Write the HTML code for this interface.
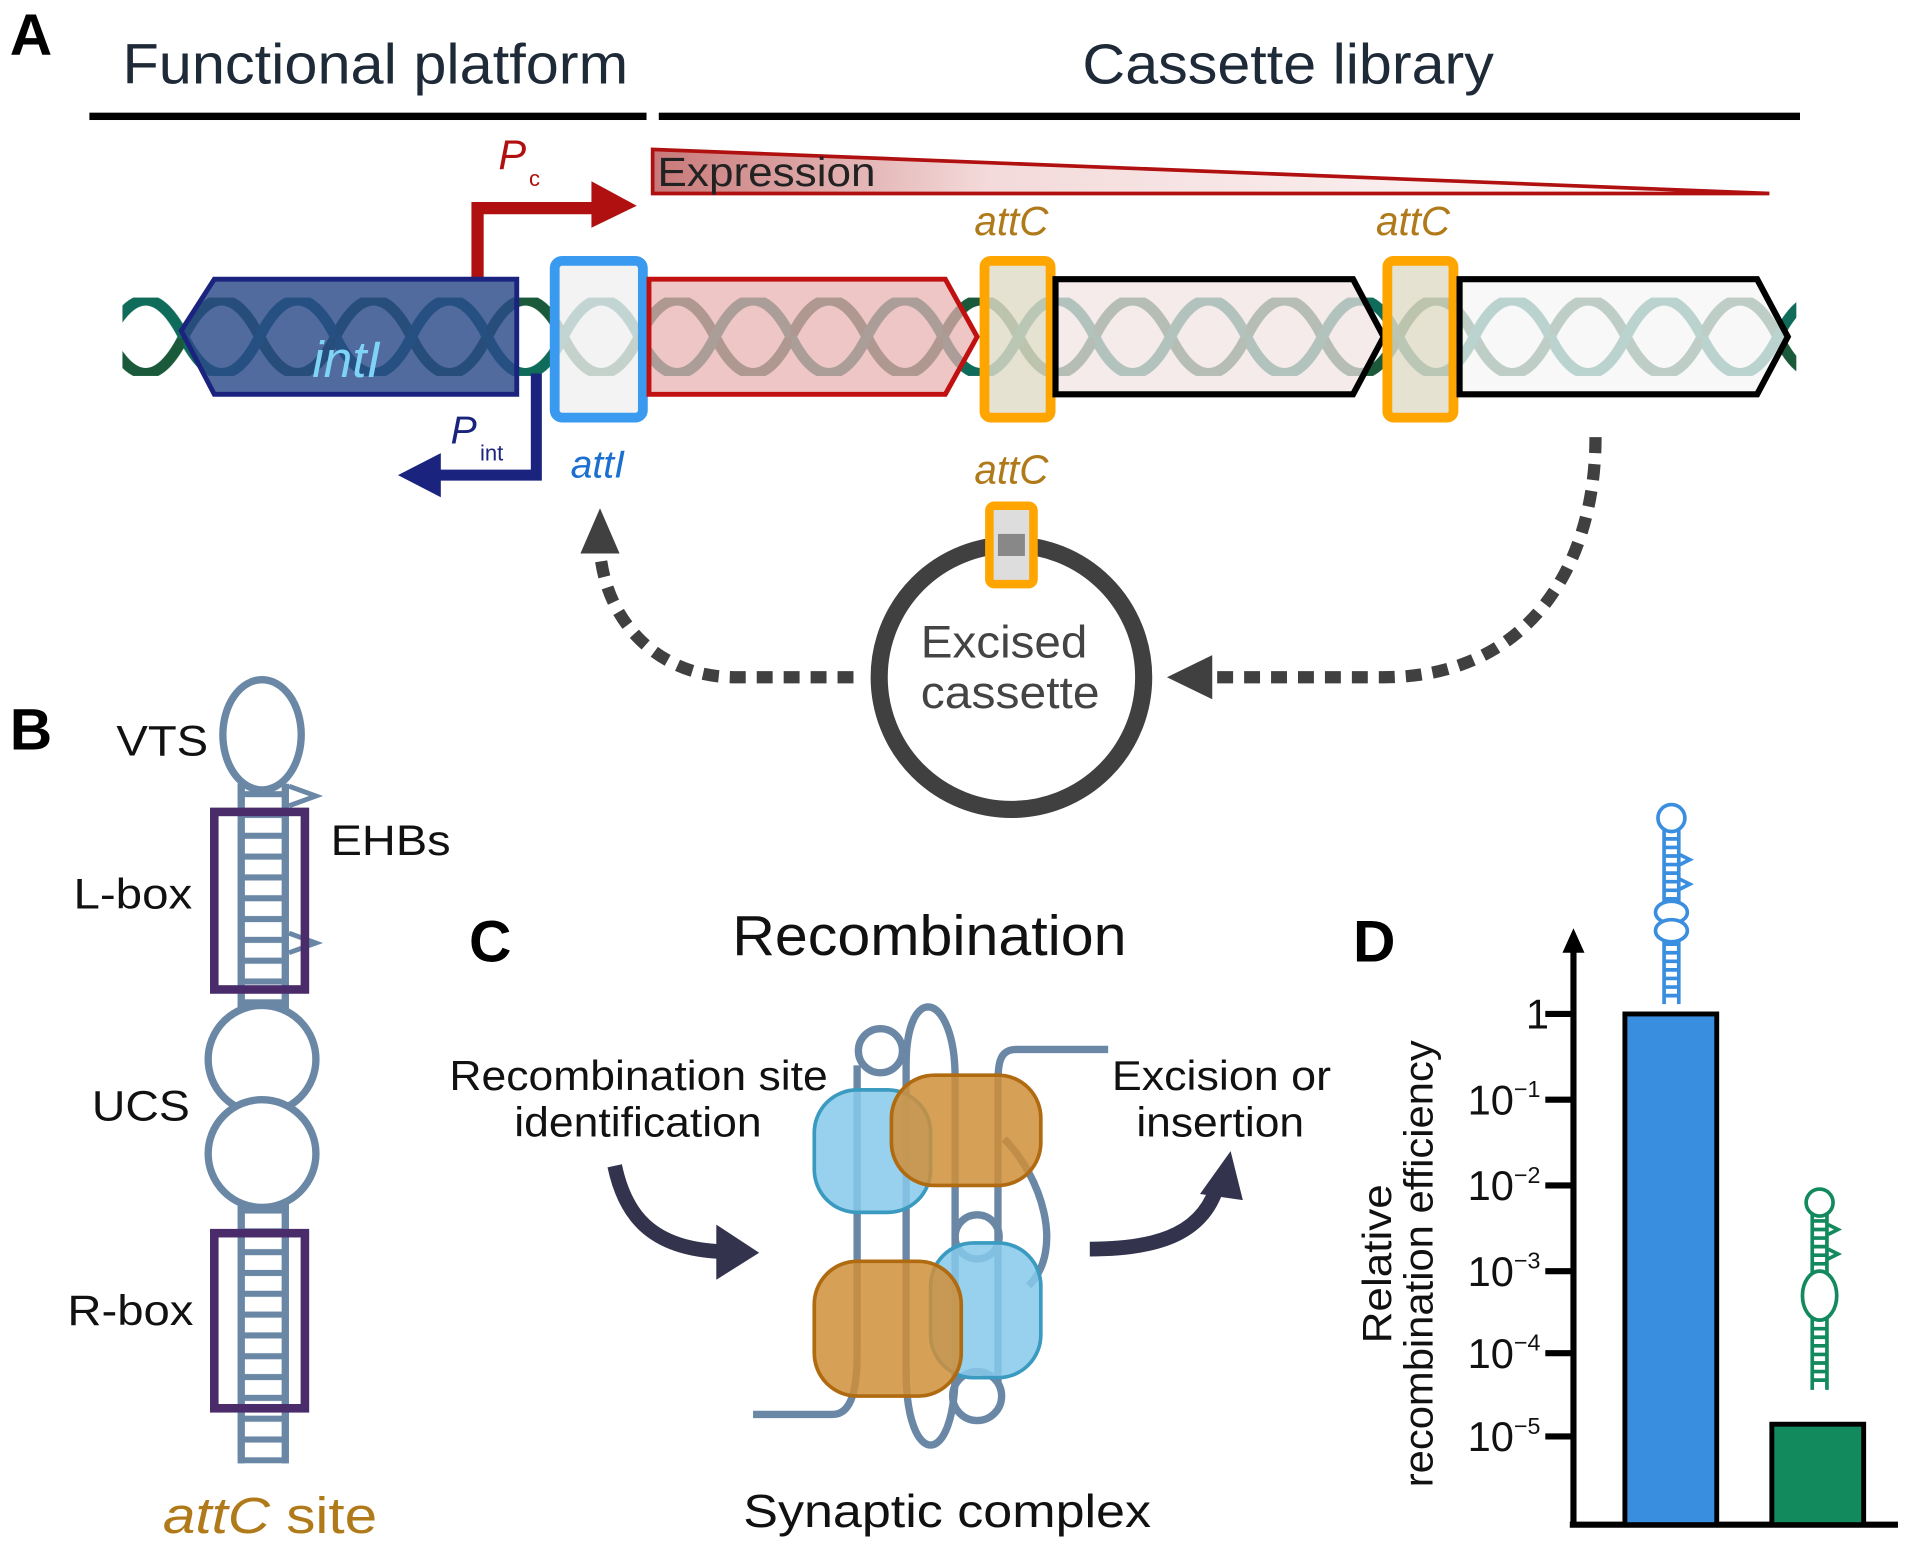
<!DOCTYPE html>
<html><head><meta charset="utf-8"><style>html,body{margin:0;padding:0;background:#fff}svg{display:block}</style></head>
<body>
<svg width="1920" height="1543" viewBox="0 0 1568 1260" preserveAspectRatio="none" xmlns="http://www.w3.org/2000/svg" font-family="Liberation Sans, sans-serif">
<defs>
<pattern id="hx" x="150" y="243" width="124" height="64" patternUnits="userSpaceOnUse">
<path d="M0,32 C20,-8 42,-8 62,32 C82,72 104,72 124,32" fill="none" stroke="#1a5a3a" stroke-width="9"/>
<path d="M0,32 C20,72 42,72 62,32 C82,-8 104,-8 124,32" fill="none" stroke="#0f6b5a" stroke-width="9"/>
</pattern>
<linearGradient id="eg" x1="0" x2="1" y1="0" y2="0"><stop offset="0" stop-color="#c87878"/><stop offset="0.3" stop-color="#f4dada"/><stop offset="1" stop-color="#fff"/></linearGradient>
<pattern id="ld" width="40" height="17" patternUnits="userSpaceOnUse" x="195" y="640"><rect x="0" y="6" width="40" height="5" fill="#6a88a6"/></pattern>
</defs>
<!-- Panel A -->
<text x="8" y="45" font-size="48" font-weight="bold">A</text>
<text x="100" y="68" font-size="46" fill="#1e2a38" textLength="413" lengthAdjust="spacingAndGlyphs">Functional platform</text>
<text x="884" y="68" font-size="46" fill="#1e2a38" textLength="336" lengthAdjust="spacingAndGlyphs">Cassette library</text>
<rect x="73" y="92" width="455" height="6" fill="#000"/>
<rect x="538" y="92" width="932" height="6" fill="#000"/>
<polygon points="533,122 533,158 1445,158" fill="url(#eg)" stroke="#b01010" stroke-width="3"/>
<text x="537" y="152" font-size="33" fill="#222" textLength="178" lengthAdjust="spacingAndGlyphs">Expression</text>
<path d="M390,228 V170 H488" fill="none" stroke="#b01010" stroke-width="10"/>
<polygon points="483,148 520,168 483,186" fill="#b01010"/>
<text x="407" y="138" font-size="34" font-style="italic" fill="#b01010">P</text>
<text x="432" y="152" font-size="18" fill="#b01010">c</text>
<rect x="100" y="243" width="1367" height="64" fill="url(#hx)"/>
<polygon points="148,270 175,228 422,228 422,322 175,322" fill="#2b4a8a" fill-opacity="0.82" stroke="#1a237e" stroke-width="4"/>
<text x="255" y="308" font-size="42" font-style="italic" fill="#7fd3f5">intI</text>
<path d="M438,305 V388 H358" fill="none" stroke="#1a237e" stroke-width="9"/>
<polygon points="360,370 325,388 360,406" fill="#1a237e"/>
<text x="368" y="362" font-size="32" font-style="italic" fill="#1a237e">P</text>
<text x="392" y="376" font-size="18" fill="#1a237e">int</text>
<rect x="453" y="213" width="72" height="128" rx="6" fill="#f0f0f0" fill-opacity="0.8" stroke="#3a9af0" stroke-width="8"/>
<text x="466" y="390" font-size="32" font-style="italic" fill="#1a6fd0">attI</text>
<polygon points="530,228 772,228 798,275 772,322 530,322" fill="#e8b0b0" fill-opacity="0.72" stroke="#c01010" stroke-width="4"/>
<rect x="804" y="213" width="54" height="128" rx="5" fill="#e0dcc8" fill-opacity="0.82" stroke="#ffa500" stroke-width="8"/>
<polygon points="862,228 1105,228 1130,275 1105,322 862,322" fill="#f1e3e3" fill-opacity="0.72" stroke="#000" stroke-width="5"/>
<rect x="1133" y="213" width="54" height="128" rx="5" fill="#e0dcc8" fill-opacity="0.82" stroke="#ffa500" stroke-width="8"/>
<polygon points="1192,228 1435,228 1460,275 1435,322 1192,322" fill="#f5f5f5" fill-opacity="0.75" stroke="#000" stroke-width="5"/>
<g font-size="33" font-style="italic" fill="#b07a1a" text-anchor="middle">
<text x="826" y="192">attC</text><text x="1154" y="192">attC</text><text x="826" y="395">attC</text></g>
<circle cx="826" cy="553" r="108" fill="#fff" stroke="#404040" stroke-width="14"/>
<rect x="808" y="413" width="36" height="64" rx="4" fill="#ddd" stroke="#ffa500" stroke-width="7"/>
<rect x="815" y="436" width="22" height="18" fill="#888"/>
<text x="752" y="537" font-size="37" fill="#444" textLength="136" lengthAdjust="spacingAndGlyphs">Excised</text>
<text x="752" y="578" font-size="37" fill="#444" textLength="146" lengthAdjust="spacingAndGlyphs">cassette</text>
<path d="M697,553 H600 C540,553 495,510 490,450" fill="none" stroke="#404040" stroke-width="10" stroke-dasharray="13 9"/>
<polygon points="474,452 490,415 506,452" fill="#404040"/>
<path d="M1303,357 C1303,460 1250,553 1130,553 H990" fill="none" stroke="#404040" stroke-width="10" stroke-dasharray="13 9"/>
<polygon points="990,535 953,553 990,571" fill="#404040"/>
<!-- Panel B -->
<text x="8" y="612" font-size="48" font-weight="bold">B</text>
<rect x="195" y="640" width="40" height="555" fill="url(#ld)"/>
<path d="M197,640 V1195 M233,640 V1195" stroke="#6a88a6" stroke-width="6"/>
<ellipse cx="214" cy="600" rx="32" ry="45" fill="#fff" stroke="#6a88a6" stroke-width="6"/>
<circle cx="214" cy="865" r="44" fill="#fff" stroke="#6a88a6" stroke-width="6"/>
<circle cx="214" cy="942" r="44" fill="#fff" stroke="#6a88a6" stroke-width="6"/>
<path d="M236,642 L258,650 L236,658 M236,762 L258,770 L236,778" fill="none" stroke="#6a88a6" stroke-width="4"/>
<rect x="175" y="663" width="74" height="145" fill="none" stroke="#4a2c6a" stroke-width="7"/>
<rect x="175" y="1007" width="74" height="143" fill="none" stroke="#4a2c6a" stroke-width="7"/>
<g font-size="35" fill="#111" lengthAdjust="spacingAndGlyphs">
<text x="95" y="617" textLength="75" lengthAdjust="spacingAndGlyphs">VTS</text>
<text x="270" y="698" textLength="98" lengthAdjust="spacingAndGlyphs">EHBs</text>
<text x="60" y="742" textLength="97" lengthAdjust="spacingAndGlyphs">L-box</text>
<text x="75" y="915" textLength="80" lengthAdjust="spacingAndGlyphs">UCS</text>
<text x="55" y="1082" textLength="103" lengthAdjust="spacingAndGlyphs">R-box</text></g>
<text x="133" y="1252" font-size="42" fill="#b07a1a" textLength="175" lengthAdjust="spacingAndGlyphs"><tspan font-style="italic">attC</tspan> site</text>
<!-- Panel C -->
<text x="383" y="785" font-size="48" font-weight="bold">C</text>
<text x="598" y="780" font-size="46" fill="#111" textLength="322" lengthAdjust="spacingAndGlyphs">Recombination</text>
<g font-size="34" fill="#111">
<text x="367" y="890" textLength="309" lengthAdjust="spacingAndGlyphs">Recombination site</text>
<text x="420" y="928" textLength="202" lengthAdjust="spacingAndGlyphs">identification</text>
<text x="908" y="890" textLength="179" lengthAdjust="spacingAndGlyphs">Excision or</text>
<text x="928" y="928" textLength="137" lengthAdjust="spacingAndGlyphs">insertion</text></g>
<path d="M502,952 C510,990 530,1020 590,1022" fill="none" stroke="#33334d" stroke-width="12"/>
<polygon points="585,1000 620,1023 585,1045" fill="#33334d"/>
<path d="M890,1020 C950,1020 985,1005 995,965" fill="none" stroke="#33334d" stroke-width="12"/>
<polygon points="980,975 1005,940 1015,980" fill="#33334d"/>
<g fill="none" stroke="#6a88a6" stroke-width="6">
<path d="M615,1155 H680 C700,1155 700,1120 700,1100 V870"/>
<circle cx="719" cy="858" r="18"/>
<path d="M740,870 C740,800 780,810 780,880 V1120 C780,1200 740,1200 740,1120 V870"/>
<path d="M905,857 H830 C815,857 815,870 815,890 V1130"/>
<circle cx="798" cy="1140" r="20"/>
<circle cx="798" cy="1010" r="18"/>
<path d="M820,930 C850,960 870,1020 840,1050"/>
</g>
<g stroke-width="3" fill-opacity="0.85">
<rect x="665" y="890" width="95" height="100" rx="35" fill="#86c9ea" stroke="#3a9ac0"/>
<rect x="760" y="1015" width="90" height="110" rx="35" fill="#86c9ea" stroke="#3a9ac0"/>
<rect x="728" y="878" width="122" height="90" rx="35" fill="#d08f3a" stroke="#b06a10"/>
<rect x="665" y="1030" width="120" height="110" rx="35" fill="#d08f3a" stroke="#b06a10"/>
</g>
<text x="607" y="1247" font-size="38" fill="#111" textLength="333" lengthAdjust="spacingAndGlyphs">Synaptic complex</text>
<!-- Panel D -->
<text x="1105" y="785" font-size="48" font-weight="bold">D</text>
<path d="M1285,1245 V775 M1282,1245 H1550" stroke="#000" stroke-width="5"/>
<polygon points="1276,778 1285,758 1294,778" fill="#000"/>
<g stroke="#000" stroke-width="5"><path d="M1262,828 H1285 M1262,898 H1285 M1262,968 H1285 M1262,1038 H1285 M1262,1105 H1285 M1262,1173 H1285"/></g>
<g font-size="34" fill="#111" text-anchor="end">
<text x="1265" y="840">1</text>
<text x="1258" y="910">10<tspan font-size="19" dy="-14">−1</tspan></text>
<text x="1258" y="980">10<tspan font-size="19" dy="-14">−2</tspan></text>
<text x="1258" y="1050">10<tspan font-size="19" dy="-14">−3</tspan></text>
<text x="1258" y="1117">10<tspan font-size="19" dy="-14">−4</tspan></text>
<text x="1258" y="1185">10<tspan font-size="19" dy="-14">−5</tspan></text>
</g>
<g font-size="33" fill="#111" text-anchor="middle">
<text transform="translate(1136,1032) rotate(-90)" textLength="130" lengthAdjust="spacingAndGlyphs">Relative</text>
<text transform="translate(1170,1032) rotate(-90)" textLength="365" lengthAdjust="spacingAndGlyphs">recombination efficiency</text></g>
<rect x="1327" y="828" width="75" height="417" fill="#3a8ee0" stroke="#000" stroke-width="4"/>
<rect x="1447" y="1163" width="75" height="82" fill="#128a5e" stroke="#000" stroke-width="4"/>
<g fill="none" stroke="#3a8ee0" stroke-width="3">
<path d="M1359,678 V820 M1371,678 V820"/>
<path d="M1359,685 H1371 M1359,692 H1371 M1359,699 H1371 M1359,706 H1371 M1359,713 H1371 M1359,720 H1371 M1359,727 H1371 M1359,734 H1371 M1359,771 H1371 M1359,778 H1371 M1359,785 H1371 M1359,792 H1371 M1359,799 H1371 M1359,806 H1371 M1359,813 H1371"/>
<circle cx="1365" cy="668" r="11" fill="#fff"/><ellipse cx="1365" cy="745" rx="13" ry="9" fill="#fff"/><ellipse cx="1365" cy="760" rx="13" ry="9" fill="#fff"/>
<path d="M1372,698 L1380,702 L1372,706 M1372,718 L1380,722 L1372,726"/></g>
<g fill="none" stroke="#128a5e" stroke-width="3">
<path d="M1480,990 V1135 M1492,990 V1135"/>
<path d="M1480,997 H1492 M1480,1004 H1492 M1480,1011 H1492 M1480,1018 H1492 M1480,1025 H1492 M1480,1032 H1492 M1480,1085 H1492 M1480,1092 H1492 M1480,1099 H1492 M1480,1106 H1492 M1480,1113 H1492 M1480,1120 H1492 M1480,1127 H1492"/>
<circle cx="1486" cy="982" r="11" fill="#fff"/><ellipse cx="1486" cy="1058" rx="14" ry="20" fill="#fff"/>
<path d="M1493,1000 L1501,1004 L1493,1008 M1493,1020 L1501,1024 L1493,1028"/></g>
</svg>
</body></html>
